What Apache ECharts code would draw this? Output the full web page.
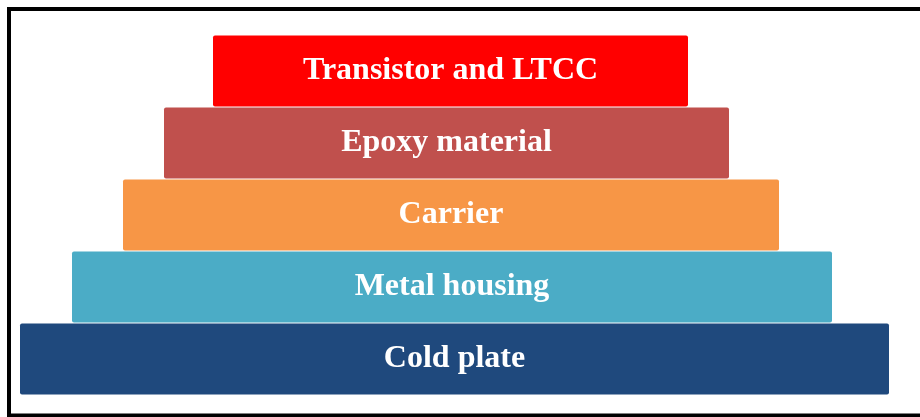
<!DOCTYPE html>
<html>
<head>
<meta charset="utf-8">
<script src="https://cdn.jsdelivr.net/npm/echarts@6/dist/echarts.min.js"></script>
<style>html,body{margin:0;padding:0;background:#fff;}#chart{width:920px;height:417px;}</style>
</head>
<body>
<div id="chart"></div>
<script>
const categories = ['Cold plate', 'Metal housing', 'Carrier', 'Epoxy material', 'Transistor and LTCC'];
const barStart = [20, 72, 123, 164, 213];
const barLength = [869, 760, 656, 565, 475];
const barColors = ['#1F497D', '#4BACC6', '#F79646', '#C0504D', '#FF0000'];

const chart = echarts.init(document.getElementById('chart'), null, {renderer: 'canvas'});
chart.setOption({
  animation: false,
  backgroundColor: '#ffffff',
  grid: {left: 0, right: 0, top: 35, bottom: 22},
  xAxis: {type: 'value', min: 0, max: 920, show: false},
  yAxis: {type: 'category', data: categories, show: false},
  graphic: [{
    type: 'polyline',
    shape: {points: [[920, 9], [9, 9], [9, 415.5], [920, 415.5]]},
    style: {fill: null, stroke: '#000', lineWidth: 4},
    z: 100
  }],
  series: [
    {
      type: 'bar', stack: 'p', data: barStart, barCategoryGap: '1.5%',
      itemStyle: {color: 'transparent'}, silent: true
    },
    {
      type: 'bar', stack: 'p', barCategoryGap: '1.5%',
      data: barLength.map((v, i) => ({value: v, itemStyle: {color: barColors[i]}})),
      itemStyle: {borderRadius: 2},
      label: {
        show: true, position: 'inside',
        formatter: p => categories[p.dataIndex],
        color: '#ffffff', fontFamily: 'Liberation Serif', fontWeight: 'bold', fontSize: 32
      }
    }
  ]
});
</script>
</body>
</html>
